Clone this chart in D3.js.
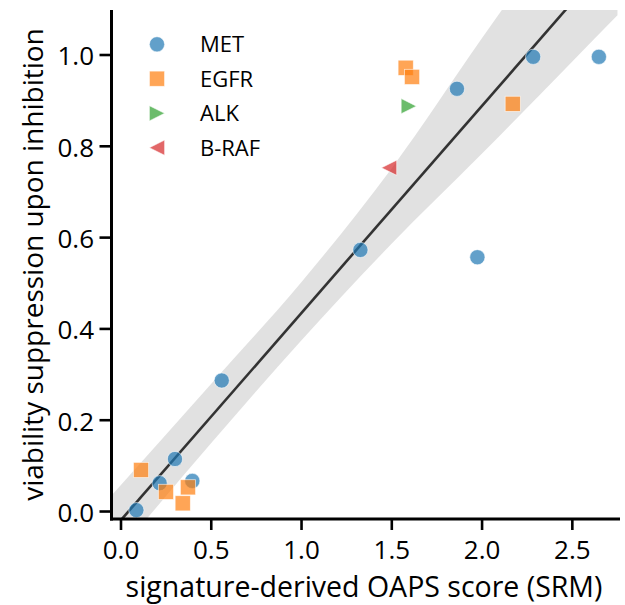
<!DOCTYPE html>
<html>
<head>
<meta charset="utf-8">
<script src="https://cdn.jsdelivr.net/npm/d3@7"></script>
<style>
  html, body { margin: 0; padding: 0; background: #fff; }
  text { font-family: "Open Sans", "Noto Sans", sans-serif; fill: #000; }
</style>
</head>
<body>
<svg id="chart" width="625" height="605"></svg>
<script>
// ---- data ----
const groups = ["MET", "EGFR", "ALK", "B-RAF"];
const metX  = [0.085, 0.214, 0.299, 0.395, 0.558, 1.326, 1.861, 1.974, 2.283, 2.647];
const metY  = [0.003, 0.062, 0.115, 0.067, 0.287, 0.573, 0.926, 0.557, 0.996, 0.996];
const egfrX = [0.111, 0.249, 0.371, 0.342, 1.577, 1.612, 2.170];
const egfrY = [0.091, 0.043, 0.053, 0.018, 0.972, 0.952, 0.893];
const alkX  = [1.594];
const alkY  = [0.888];
const brafX = [1.485];
const brafY = [0.753];
// confidence band
const ciX    = [-0.055, 0.5, 1.0, 1.5, 2.0, 2.5, 2.75];
const ciLow  = [-0.109, 0.150, 0.375, 0.587, 0.784, 0.986, 1.087];
const ciHigh = [0.034, 0.280, 0.503, 0.752, 1.037, 1.316, 1.454];
const xTicks = [0.0, 0.5, 1.0, 1.5, 2.0, 2.5];
const yTicks = [0.0, 0.2, 0.4, 0.6, 0.8, 1.0];
const xLabel = "signature-derived OAPS score (SRM)";
const yLabel = "viability suppression upon inhibition";

const colors = {"MET": "#1f77b4", "EGFR": "#ff7f0e", "ALK": "#2ca02c", "B-RAF": "#d62728"};
const shapes = {"MET": "circle", "EGFR": "square", "ALK": "right", "B-RAF": "left"};
const series = {
  "MET": [metX, metY], "EGFR": [egfrX, egfrY], "ALK": [alkX, alkY], "B-RAF": [brafX, brafY]
};

// ---- layout ----
const L = 111.5, R = 620, T = 10, B = 519;
const x = d3.scaleLinear().domain([-0.0526, 2.764]).range([L, R]);
const y = d3.scaleLinear().domain([-0.0164, 1.0986]).range([B, T]);

const svg = d3.select("#chart");
svg.append("defs").append("clipPath").attr("id", "clip")
  .append("rect").attr("x", L).attr("y", T).attr("width", R - L).attr("height", B - T);

const plot = svg.append("g").attr("clip-path", "url(#clip)");

// band
const band = ciX.map((v, i) => ({x: v, lo: ciLow[i], hi: ciHigh[i]}));
plot.append("path").datum(band)
  .attr("d", d3.area().curve(d3.curveMonotoneX)
    .x(d => x(d.x)).y0(d => y(d.lo)).y1(d => y(d.hi)))
  .attr("fill", "#333333").attr("fill-opacity", 0.15);

// OLS regression line from all points
const allX = [].concat(metX, egfrX, alkX, brafX);
const allY = [].concat(metY, egfrY, alkY, brafY);
const mx = d3.mean(allX), my = d3.mean(allY);
let sxy = 0, sxx = 0;
allX.forEach((v, i) => { sxy += (v - mx) * (allY[i] - my); sxx += (v - mx) * (v - mx); });
const slope = sxy / sxx, icpt = my - slope * mx;
const xs = x.domain();
plot.append("line")
  .attr("x1", x(xs[0])).attr("y1", y(icpt + slope * xs[0]))
  .attr("x2", x(xs[1])).attr("y2", y(icpt + slope * xs[1]))
  .attr("stroke", "#333333").attr("stroke-width", 2.6);

// markers
const r = 7.6;
function drawMarker(g, shape, cx, cy, color) {
  let el;
  if (shape === "circle") {
    el = g.append("circle").attr("cx", cx).attr("cy", cy).attr("r", r);
  } else if (shape === "square") {
    el = g.append("rect").attr("x", cx - r).attr("y", cy - r).attr("width", 2 * r).attr("height", 2 * r);
  } else if (shape === "right") {
    el = g.append("path").attr("d", `M${cx + r},${cy} L${cx - r},${cy - r} L${cx - r},${cy + r} Z`);
  } else {
    el = g.append("path").attr("d", `M${cx - r},${cy} L${cx + r},${cy - r} L${cx + r},${cy + r} Z`);
  }
  el.attr("fill", color).attr("fill-opacity", 0.7)
    .attr("stroke", "#ffffff").attr("stroke-opacity", 0.7).attr("stroke-width", 0.8);
}
const pts = svg.append("g");
groups.forEach(gname => {
  const [xv, yv] = series[gname];
  xv.forEach((v, i) => drawMarker(pts, shapes[gname], x(v), y(yv[i]), colors[gname]));
});

// axes spines
const axisG = svg.append("g");
axisG.append("line").attr("x1", L).attr("x2", L).attr("y1", T).attr("y2", B + 1.5)
  .attr("stroke", "#000").attr("stroke-width", 3);
axisG.append("line").attr("x1", L - 1.5).attr("x2", R).attr("y1", B).attr("y2", B)
  .attr("stroke", "#000").attr("stroke-width", 3);

// x ticks
const xt = axisG.selectAll(".xt").data(xTicks).enter().append("g");
xt.append("line").attr("x1", d => x(d)).attr("x2", d => x(d)).attr("y1", B).attr("y2", B + 11)
  .attr("stroke", "#000").attr("stroke-width", 2.6);
xt.append("text").attr("x", d => x(d)).attr("y", 559).attr("text-anchor", "middle")
  .attr("font-size", 26).text(d => d3.format(".1f")(d));

// y ticks
const yt = axisG.selectAll(".yt").data(yTicks).enter().append("g");
yt.append("line").attr("x1", L - 12).attr("x2", L).attr("y1", d => y(d)).attr("y2", d => y(d))
  .attr("stroke", "#000").attr("stroke-width", 2.6);
yt.append("text").attr("x", 94).attr("y", d => y(d)).attr("dy", "0.4em").attr("text-anchor", "end")
  .attr("font-size", 26).text(d => d3.format(".1f")(d));

// axis labels
svg.append("text").attr("x", 364).attr("y", 596.5).attr("text-anchor", "middle")
  .attr("font-size", 28.5).text(xLabel);
svg.append("text").attr("transform", `translate(43,${(T + B) / 2}) rotate(-90)`)
  .attr("text-anchor", "middle").attr("font-size", 28).text(yLabel);

// legend
const legY = [44.3, 78.7, 113.3, 147.7];
const leg = svg.append("g");
groups.forEach((gname, i) => {
  drawMarker(leg, shapes[gname], 157, legY[i], colors[gname]);
  leg.append("text").attr("x", 200).attr("y", legY[i]).attr("dy", "0.36em")
    .attr("font-size", 22).text(gname);
});
</script>
</body>
</html>
